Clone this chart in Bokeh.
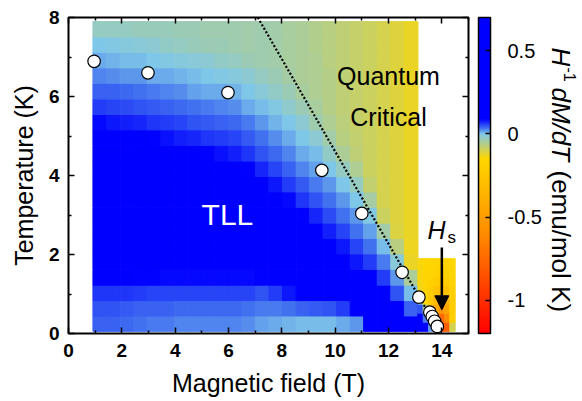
import numpy as np
from bokeh.plotting import figure
from bokeh.layouts import row
from bokeh.models import (ColumnDataSource, LinearColorMapper, ColorBar, FixedTicker,
                          LinearAxis, Label, Arrow, NormalHead, CustomJSTickFormatter)
from bokeh.transform import transform
from bokeh.embed import file_html
from bokeh.resources import INLINE

# ---------------- data ----------------
field_main = [1.17, 1.68, 2.19, 2.70, 3.20, 3.71, 4.22, 4.73, 5.23, 5.74, 6.25, 6.76,
              7.26, 7.77, 8.28, 8.79, 9.29, 9.80, 10.31, 10.82, 11.32, 11.83, 12.34, 12.85]
temp_main = [0.25, 0.64, 1.03, 1.42, 1.82, 2.21, 2.60, 2.99, 3.39, 3.78,
             4.17, 4.56, 4.96, 5.35, 5.74, 6.13, 6.53, 6.92, 7.31, 7.70]
# H^-1 dM/dT, one row per temperature (ascending), one value per field
dmdt_main = [
    [0.040, 0.040, 0.036, 0.033, 0.030, 0.029, 0.028, 0.027, 0.027, 0.026, 0.025, 0.022, 0.015, 0.010, 0.008, 0.005, 0.004, 0.005, 0.010, 0.020, 0.30, 0.30, 0.30, 0.10],
    [0.050, 0.050, 0.046, 0.043, 0.040, 0.040, 0.039, 0.038, 0.038, 0.037, 0.036, 0.035, 0.030, 0.030, 0.035, 0.040, 0.045, 0.050, 0.060, 0.10, 0.30, 0.30, 0.12, 0.040],
    [0.065, 0.065, 0.062, 0.060, 0.058, 0.057, 0.056, 0.055, 0.055, 0.055, 0.055, 0.055, 0.050, 0.060, 0.080, 0.10, 0.12, 0.15, 0.20, 0.30, 0.30, 0.12, 0.050, 0.005],
    [0.10, 0.10, 0.095, 0.090, 0.088, 0.087, 0.086, 0.085, 0.085, 0.085, 0.085, 0.085, 0.090, 0.12, 0.20, 0.30, 0.30, 0.30, 0.30, 0.13, 0.10, 0.060, 0.020, -0.050],
    [0.30, 0.30, 0.30, 0.30, 0.30, 0.30, 0.30, 0.30, 0.30, 0.30, 0.30, 0.30, 0.30, 0.30, 0.30, 0.30, 0.30, 0.25, 0.13, 0.080, 0.060, 0.030, -0.010, -0.125],
    [0.30, 0.30, 0.30, 0.30, 0.30, 0.30, 0.30, 0.30, 0.30, 0.30, 0.30, 0.30, 0.30, 0.30, 0.30, 0.30, 0.20, 0.11, 0.080, 0.055, 0.035, 0.005, -0.065, -0.130],
    [0.30, 0.30, 0.30, 0.30, 0.30, 0.30, 0.30, 0.30, 0.30, 0.30, 0.30, 0.30, 0.30, 0.30, 0.30, 0.17, 0.10, 0.075, 0.055, 0.035, 0.015, -0.040, -0.108, -0.125],
    [0.30, 0.30, 0.30, 0.30, 0.30, 0.30, 0.30, 0.30, 0.30, 0.30, 0.30, 0.30, 0.30, 0.30, 0.15, 0.090, 0.070, 0.052, 0.035, 0.018, -0.005, -0.090, -0.112, -0.125],
    [0.30, 0.30, 0.30, 0.30, 0.30, 0.30, 0.30, 0.30, 0.30, 0.30, 0.30, 0.30, 0.20, 0.12, 0.085, 0.065, 0.050, 0.034, 0.018, 0.000, -0.045, -0.100, -0.112, -0.125],
    [0.30, 0.30, 0.30, 0.30, 0.30, 0.30, 0.30, 0.30, 0.30, 0.30, 0.30, 0.15, 0.10, 0.078, 0.060, 0.045, 0.032, 0.018, 0.002, -0.027, -0.078, -0.100, -0.112, -0.125],
    [0.30, 0.30, 0.30, 0.30, 0.30, 0.30, 0.30, 0.20, 0.16, 0.13, 0.11, 0.090, 0.070, 0.055, 0.042, 0.028, 0.016, 0.000, -0.024, -0.055, -0.088, -0.100, -0.112, -0.125],
    [0.30, 0.30, 0.30, 0.20, 0.18, 0.15, 0.12, 0.10, 0.090, 0.082, 0.075, 0.065, 0.050, 0.038, 0.025, 0.013, 0.003, -0.020, -0.050, -0.075, -0.090, -0.100, -0.112, -0.125],
    [0.15, 0.13, 0.11, 0.10, 0.090, 0.082, 0.075, 0.070, 0.065, 0.060, 0.055, 0.045, 0.034, 0.022, 0.011, 0.000, -0.015, -0.042, -0.066, -0.079, -0.090, -0.100, -0.112, -0.125],
    [0.085, 0.080, 0.075, 0.070, 0.065, 0.060, 0.055, 0.050, 0.045, 0.042, 0.038, 0.030, 0.018, 0.009, -0.001, -0.016, -0.035, -0.056, -0.071, -0.080, -0.090, -0.100, -0.112, -0.125],
    [0.060, 0.055, 0.052, 0.050, 0.045, 0.042, 0.038, 0.034, 0.030, 0.026, 0.021, 0.013, 0.005, -0.004, -0.018, -0.034, -0.049, -0.061, -0.073, -0.080, -0.090, -0.100, -0.112, -0.125],
    [0.042, 0.040, 0.036, 0.034, 0.030, 0.026, 0.021, 0.017, 0.013, 0.010, 0.007, 0.000, -0.010, -0.022, -0.034, -0.046, -0.054, -0.063, -0.074, -0.080, -0.090, -0.100, -0.112, -0.125],
    [0.028, 0.024, 0.020, 0.018, 0.013, 0.010, 0.007, 0.004, 0.000, -0.003, -0.007, -0.015, -0.027, -0.034, -0.043, -0.050, -0.056, -0.064, -0.075, -0.080, -0.090, -0.100, -0.112, -0.125],
    [0.012, 0.009, 0.006, 0.004, 0.002, -0.002, -0.006, -0.010, -0.016, -0.020, -0.026, -0.034, -0.035, -0.039, -0.046, -0.051, -0.057, -0.065, -0.075, -0.080, -0.090, -0.100, -0.112, -0.125],
    [0.000, -0.003, -0.006, -0.010, -0.015, -0.020, -0.024, -0.028, -0.032, -0.034, -0.036, -0.039, -0.037, -0.040, -0.047, -0.052, -0.058, -0.065, -0.075, -0.080, -0.090, -0.100, -0.112, -0.125],
    [-0.025, -0.024, -0.026, -0.028, -0.030, -0.031, -0.032, -0.034, -0.035, -0.036, -0.038, -0.040, -0.038, -0.040, -0.047, -0.052, -0.058, -0.065, -0.075, -0.080, -0.090, -0.100, -0.112, -0.125],
]

field_hs = [13.2, 13.4, 13.6, 13.8, 14.0, 14.2, 14.4]
temp_hs = [0.17, 0.40, 0.63, 0.86, 1.09, 1.32, 1.55, 1.78]
dmdt_hs = [
    [0.25, 0.10, 0.02, -0.40, -0.90, -0.80, -0.10],
    [0.12, 0.03, -0.15, -0.50, -0.75, -0.60, -0.20],
    [0.05, -0.06, -0.25, -0.42, -0.55, -0.45, -0.22],
    [-0.02, -0.15, -0.23, -0.33, -0.42, -0.36, -0.22],
    [-0.13, -0.17, -0.21, -0.27, -0.32, -0.28, -0.20],
    [-0.14, -0.17, -0.19, -0.22, -0.25, -0.22, -0.18],
    [-0.14, -0.16, -0.17, -0.19, -0.20, -0.19, -0.16],
    [-0.14, -0.15, -0.16, -0.17, -0.18, -0.17, -0.15],
]

peak_field = [0.96, 2.98, 5.98, 9.50, 11.00, 12.51, 13.14, 13.55, 13.64, 13.73, 13.83]
peak_temp = [6.89, 6.60, 6.10, 4.13, 3.04, 1.55, 0.92, 0.54, 0.43, 0.31, 0.18]

guide_field = [7.10, 13.90]
guide_temp = [8.00, 0.05]

hs_field = [14.0, 14.0]
hs_temp = [2.18, 0.60]

x_ticks = [0, 2, 4, 6, 8, 10, 12, 14]
x_minor = [1, 3, 5, 7, 9, 11, 13, 15]
y_ticks = [0, 2, 4, 6, 8]
y_minor = [1, 3, 5, 7]
cbar_ticks = [-1, -0.5, 0, 0.5]
cbar_low, cbar_high = -1.2, 0.7

# ---------------- colour map ----------------
stops = [(-1.2, (255, 0, 0)), (-0.6, (255, 140, 0)), (-0.15, (255, 215, 0)),
         (0.0, (128, 200, 232)), (0.035, (64, 110, 240)), (0.09, (0, 0, 255)),
         (0.7, (0, 0, 255))]
sv = np.array([s[0] for s in stops])
sc = np.array([s[1] for s in stops], dtype=float)
N = 512
vals = cbar_low + (np.arange(N) + 0.5) * (cbar_high - cbar_low) / N
palette = []
for v in vals:
    r, g, b = (np.interp(v, sv, sc[:, k]) for k in range(3))
    palette.append("#%02x%02x%02x" % (int(round(r)), int(round(g)), int(round(b))))
mapper = LinearColorMapper(palette=palette, low=cbar_low, high=cbar_high)

FONT = "Liberation Sans"

# ---------------- main panel ----------------
p = figure(width=544, height=401, x_range=(0, 15), y_range=(0, 8),
           output_backend="svg", toolbar_location=None,
           min_border_left=68, min_border_right=76, min_border_top=17, min_border_bottom=68)
p.background_fill_color = "white"
p.border_fill_color = "white"
p.grid.visible = False
p.outline_line_color = "black"
p.outline_line_width = 2


def cells(fields, temps, grid):
    H, T, V = [], [], []
    for j, t in enumerate(temps):
        for i, h in enumerate(fields):
            H.append(h)
            T.append(t)
            V.append(grid[j][i])
    return ColumnDataSource(dict(H=H, T=T, v=V))


w_main = (field_main[-1] - field_main[0]) / (len(field_main) - 1)
h_main = (temp_main[-1] - temp_main[0]) / (len(temp_main) - 1)
p.rect(x="H", y="T", width=w_main, height=h_main, source=cells(field_main, temp_main, dmdt_main),
       fill_color=transform("v", mapper), line_color=transform("v", mapper), line_width=1)
w_hs = (field_hs[-1] - field_hs[0]) / (len(field_hs) - 1)
h_hs = (temp_hs[-1] - temp_hs[0]) / (len(temp_hs) - 1)
p.rect(x="H", y="T", width=w_hs, height=h_hs, source=cells(field_hs, temp_hs, dmdt_hs),
       fill_color=transform("v", mapper), line_color=transform("v", mapper), line_width=1)

p.line(guide_field, guide_temp, line_color="black", line_width=2.2, line_dash="2 2")
p.scatter(peak_field, peak_temp, size=12.5, fill_color="white", line_color="black", line_width=1.2)

p.add_layout(Arrow(end=NormalHead(size=14, fill_color="black", line_color="black"),
                   x_start=hs_field[0], y_start=hs_temp[0], x_end=hs_field[1], y_end=hs_temp[1],
                   line_width=2.5, line_color="black"))

xt = FixedTicker(ticks=x_ticks, minor_ticks=x_minor)
yt = FixedTicker(ticks=y_ticks, minor_ticks=y_minor)


def style_axis(ax, show_labels=True):
    ax.axis_line_color = None
    ax.major_tick_in = 6
    ax.major_tick_out = 0
    ax.minor_tick_in = 3
    ax.minor_tick_out = 0
    ax.major_tick_line_width = 1.5
    ax.minor_tick_line_width = 1.5
    ax.major_tick_line_color = "black"
    ax.minor_tick_line_color = "black"
    ax.major_label_text_font = FONT
    ax.major_label_text_font_style = "bold"
    ax.major_label_text_color = "black"
    if show_labels:
        ax.major_label_text_font_size = "19px"
    else:
        ax.formatter = CustomJSTickFormatter(code="return '';")
        ax.major_label_text_font_size = "1px"
        ax.major_label_standoff = 0


xa = p.xaxis[0]
xa.ticker = xt
style_axis(xa)
xa.major_label_standoff = 10
xa.axis_label = "Magnetic field (T)"
xa.axis_label_text_font = FONT
xa.axis_label_text_font_size = "25px"
xa.axis_label_text_font_style = "normal"
xa.axis_label_text_color = "black"
xa.axis_label_standoff = 9

ya = p.yaxis[0]
ya.ticker = yt
style_axis(ya)
ya.major_label_standoff = 9
ya.axis_label = "Temperature (K)"
ya.axis_label_text_font = FONT
ya.axis_label_text_font_size = "25px"
ya.axis_label_text_font_style = "normal"
ya.axis_label_text_color = "black"
ya.axis_label_standoff = 8

top = LinearAxis(ticker=xt)
style_axis(top, False)
p.add_layout(top, "above")
right = LinearAxis(ticker=yt)
style_axis(right, False)
p.add_layout(right, "right")

cb = ColorBar(color_mapper=mapper, width=12, height=316, padding=0, margin=0,
              location=(10, 0),
              ticker=FixedTicker(ticks=cbar_ticks, minor_ticks=[]),
              formatter=CustomJSTickFormatter(code="return tick.toString();"),
              label_standoff=17, major_tick_in=5, major_tick_out=0,
              major_tick_line_color="black", major_tick_line_width=1.5,
              bar_line_color="black", bar_line_width=1.5,
              background_fill_alpha=0, border_line_color=None,
              major_label_text_font=FONT, major_label_text_font_size="20px",
              major_label_text_color="black")
p.add_layout(cb, "right")


def lab(fig, text, x, y, size, **kw):
    kw.setdefault("text_color", "black")
    fig.add_layout(Label(x=x, y=y, text=text, text_font=FONT, text_font_size=size, **kw))


lab(p, "TLL", 5.96, 3.01, "30px", text_align="center", text_baseline="middle", text_color="white")
lab(p, "Quantum", 12.0, 6.52, "25px", text_align="center", text_baseline="middle")
lab(p, "Critical", 12.0, 5.49, "25px", text_align="center", text_baseline="middle")
lab(p, "H", 13.46, 2.61, "25px", text_align="left", text_baseline="alphabetic", text_font_style="italic")
lab(p, "s", 14.21, 2.43, "17px", text_align="left", text_baseline="alphabetic")

# ---------------- colour-bar title strip ----------------
# same top/bottom borders as the main panel, so its frame spans the same 316 px
q = figure(width=38, height=401, x_range=(0, 38), y_range=(0, 316),
           output_backend="svg", toolbar_location=None,
           x_axis_location=None, y_axis_location=None,
           min_border_left=0, min_border_right=0, min_border_top=17, min_border_bottom=68)
q.grid.visible = False
q.outline_line_color = None
q.background_fill_color = "white"
q.border_fill_color = "white"

rot = -np.pi / 2
lab(q, "H", 16, 286, "26px", angle=rot, text_align="left", text_baseline="middle", text_font_style="italic")
lab(q, "-1", 25, 266, "16px", angle=rot, text_align="left", text_baseline="middle")
lab(q, "dM/dT", 16, 246, "26px", angle=rot, text_align="left", text_baseline="middle", text_font_style="italic")
lab(q, "(emu/mol K)", 16, 163, "26px", angle=rot, text_align="left", text_baseline="middle")

layout = row(p, q)
open("out.html", "w").write(file_html(layout, INLINE))
